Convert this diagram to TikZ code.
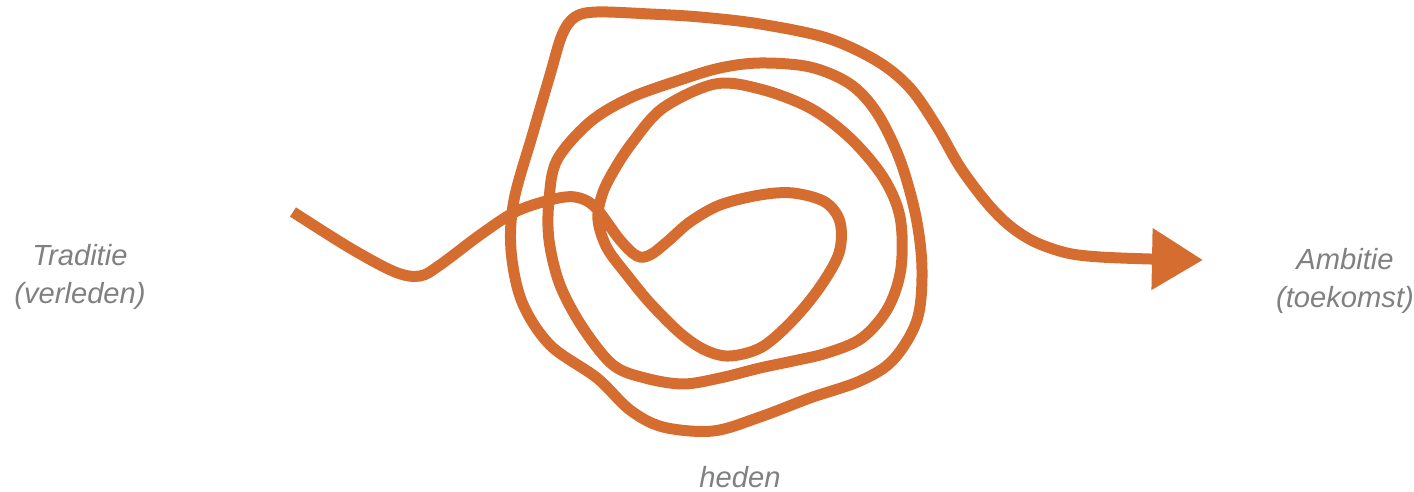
\documentclass[tikz,border=0pt]{standalone}
\usepackage{fontspec}
\setsansfont{Liberation Sans}
\usepackage{tikz}
\usetikzlibrary{arrows.meta,positioning}
\usepackage{xcolor}
\definecolor{knotorange}{RGB}{213,108,48}
\definecolor{textgrey}{RGB}{128,128,128}
\tikzset{
    knot/.style={draw=knotorange, line width=0.22cm, -{Triangle[length=1.02cm, width=1.18cm]}},
    timetext/.style={text=textgrey, font=\sffamily\itshape\fontsize{16.6}{21.5}\selectfont, align=center},
}

\begin{document}
\begin{tikzpicture}[x=0.02cm, y=-0.02cm]
    \useasboundingbox (0,0) rectangle (1414,492);

    % Labels
    \node[timetext] (past) at (80,277) {Traditie\\(verleden)};
    \node[timetext] (future) at (1345,281) {Ambitie\\(toekomst)};
    \node[timetext] (present) at (740,477) {heden};

    % The tangled line
    \draw[knot] plot[smooth, tension=0.55] coordinates {
        (293,212) (350,248) (395,272) (420,276) (440,265) (480,235) (515,212)
        (550,200) (575,197) (595,207) (620,240) (637,256) (650,255) (667,242)
        (690,222) (720,205) (760,195) (793,193) (825,202) (840,222) (839,253)
        (820,287) (793,320) (762,347) (730,356) (705,350) (680,333) (650,303)
        (627,275) (607,248) (598,220) (602,195) (613,172) (632,143) (663,108)
        (715,84) (760,89) (810,108) (850,138) (883,177) (900,217) (901,268)
        (888,308) (862,338) (827,353) (793,361) (760,368) (720,378) (683,384)
        (645,378) (613,365) (583,328) (560,285) (549,240) (549,200) (557,160)
        (590,122) (630,98) (680,80) (720,68) (760,63) (810,67) (850,84)
        (877,113) (900,160) (916,217) (922,270) (917,320) (893,360) (860,381)
        (810,398) (760,417) (713,431) (663,427) (630,410) (597,378) (550,345)
        (522,302) (511,250) (514,200) (533,133) (550,75) (562,35) (575,17)
        (597,12) (650,14) (700,17) (760,24) (827,38) (877,61) (910,88)
        (937,127) (960,167) (987,203) (1010,226) (1035,242) (1067,253)
        (1100,257) (1150,259)
    } -- (1203,260);
\end{tikzpicture}
\end{document}
